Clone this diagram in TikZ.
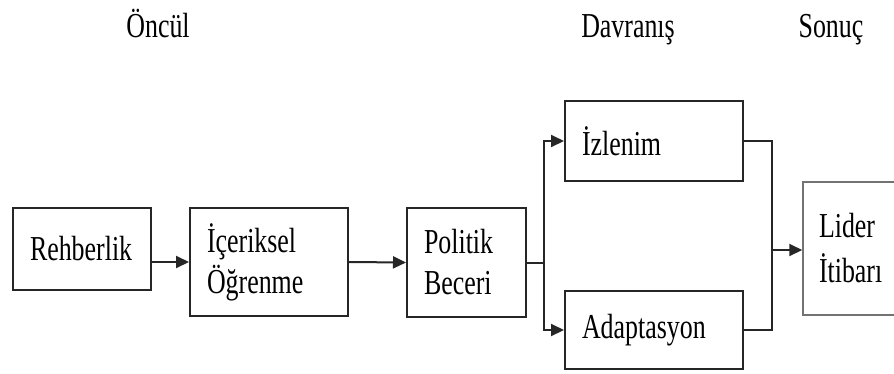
\documentclass[tikz,border=0pt]{standalone}
\usepackage{fontspec}
\setmainfont{Liberation Serif}[FakeStretch=0.74]
\usetikzlibrary{arrows.meta}
\begin{document}
\begin{tikzpicture}
		[	x=1pt,y=-1pt,
		box/.style={rectangle,draw=black!85,line width=2pt,align=left,inner xsep=17pt,inner ysep=0pt,font=\fontsize{35}{41}\selectfont},
		plain/.style={draw=none,fill=none,anchor=base,font=\fontsize{35}{41}\selectfont},
		link/.style={line width=2pt,draw=black!85},
		arr/.style={link,-{Triangle[length=13pt,width=12pt]}}
		]
		\useasboundingbox (0,0) rectangle (894,373);
		\node[box,text width=104pt,minimum height=82pt] (reh) at (82,249){Rehberlik};
		\node[box,text width=124pt,minimum height=108pt] (ice) at (269,262){İçeriksel\\Öğrenme};
		\node[box,text width=85pt,minimum height=109pt] (pol) at (466.5,262.5){Politik\\Beceri};
		\node[box,text width=144pt,minimum height=80pt] (izl) at (654,141){İzlenim};
		\node[box,text width=144pt,minimum height=78pt] (ada) at (654,330){Adaptasyon};
		\node[box,draw=black!55,line width=1.5pt,inner xsep=16pt,text width=68pt,minimum height=133pt,font=\fontsize{35}{45}\selectfont] (lid) at (853,248.5){Lider\\İtibarı};

\node[plain] (oncul) at (158,37){Öncül};
\node[plain] (davr) at (628,37){Davranış};
\node[plain] (sonuc) at (831,37){Sonuç};

\coordinate (split) at (544,263);
\coordinate (join) at (772,250);
		\draw[arr] (reh.east |- ice.west) -- (ice.west);
		\draw[arr] (ice.east) -- (pol.west);
		\draw[link] (pol.east |- split) -- (split);
		\draw[arr] (split) |- (izl.west);
		\draw[arr] (split) |- (ada.west);
		\draw[link] (izl.east) -| (join) |- (ada.east);
		\draw[arr] (join) -- (lid.west |- join);
	\end{tikzpicture}
\end{document}
